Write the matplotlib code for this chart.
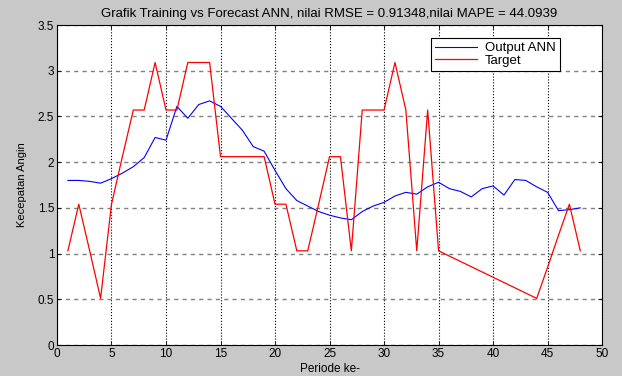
import numpy as np
import matplotlib.pyplot as plt

# data
periode = np.arange(1, 49)
output_ann = [1.80, 1.80, 1.79, 1.77, 1.82, 1.88, 1.95, 2.05, 2.27, 2.24,
              2.61, 2.48, 2.63, 2.67, 2.61, 2.48, 2.35, 2.17, 2.12, 1.91,
              1.71, 1.58, 1.52, 1.46, 1.42, 1.39, 1.37, 1.46, 1.52, 1.56,
              1.63, 1.67, 1.65, 1.73, 1.78, 1.71, 1.68, 1.62, 1.71, 1.74,
              1.64, 1.81, 1.80, 1.73, 1.67, 1.47, 1.48, 1.50]

periode_target = [1, 2, 3, 4, 5, 6, 7, 8, 9, 10, 11, 12, 13, 14, 15, 16, 17, 18, 19,
                  20, 21, 22, 23, 24, 25, 26, 27, 28, 29, 30, 31, 32, 33, 34, 35,
                  44, 45, 46, 47, 48]
target = [1.03, 1.54, 1.03, 0.51, 1.54, 2.06, 2.57, 2.57, 3.09, 2.57, 2.57, 3.09,
          3.09, 3.09, 2.06, 2.06, 2.06, 2.06, 2.06, 1.54, 1.54, 1.03, 1.03, 1.54,
          2.06, 2.06, 1.03, 2.57, 2.57, 2.57, 3.09, 2.57, 1.03, 2.57, 1.03,
          0.51, 0.85, 1.2, 1.54, 1.03]

plt.rcParams['font.family'] = ['Liberation Sans', 'DejaVu Sans']

bg = '#c8c8c8'
fig = plt.figure(figsize=(6.22, 3.76), dpi=100, facecolor=bg)
ax = fig.add_axes([0.0916, 0.0824, 0.8764, 0.8511])

ax.plot(periode, output_ann, color='#0000ff', lw=0.8, label='Output ANN')
ax.plot(periode_target, target, color='#ff0000', lw=0.9, label='Target')

ax.set_xlim(0, 50)
ax.set_ylim(0, 3.5)
ax.set_xticks(np.arange(0, 51, 5))
ax.set_yticks(np.arange(0, 3.51, 0.5))
ax.set_yticklabels(['0', '0.5', '1', '1.5', '2', '2.5', '3', '3.5'])

ax.xaxis.grid(True, color='black', linestyle=':', lw=0.8)
ax.yaxis.grid(True, color='#808080', linestyle=(0, (3, 3)), lw=1.0)
ax.tick_params(direction='in', top=True, right=True, labelsize=8.5, length=3,
               width=0.6, pad=2)
for sp in ax.spines.values():
    sp.set_linewidth(0.8)

ax.set_title('Grafik Training vs Forecast ANN, nilai RMSE = 0.91348,nilai MAPE = 44.0939',
             fontsize=9.5, pad=6)
ax.set_xlabel('Periode ke-', fontsize=8.5, labelpad=2)
ax.set_ylabel('Kecepatan Angin', fontsize=8, labelpad=8)

leg = ax.legend(loc='upper left', bbox_to_anchor=(0.686, 0.959), fontsize=9.5,
                fancybox=False, framealpha=1, edgecolor='black',
                borderpad=0.3, labelspacing=0.0, handlelength=3.2,
                handletextpad=0.6, borderaxespad=0)
leg.get_frame().set_linewidth(0.8)

fig.savefig('out.png', dpi=100, facecolor=bg)
